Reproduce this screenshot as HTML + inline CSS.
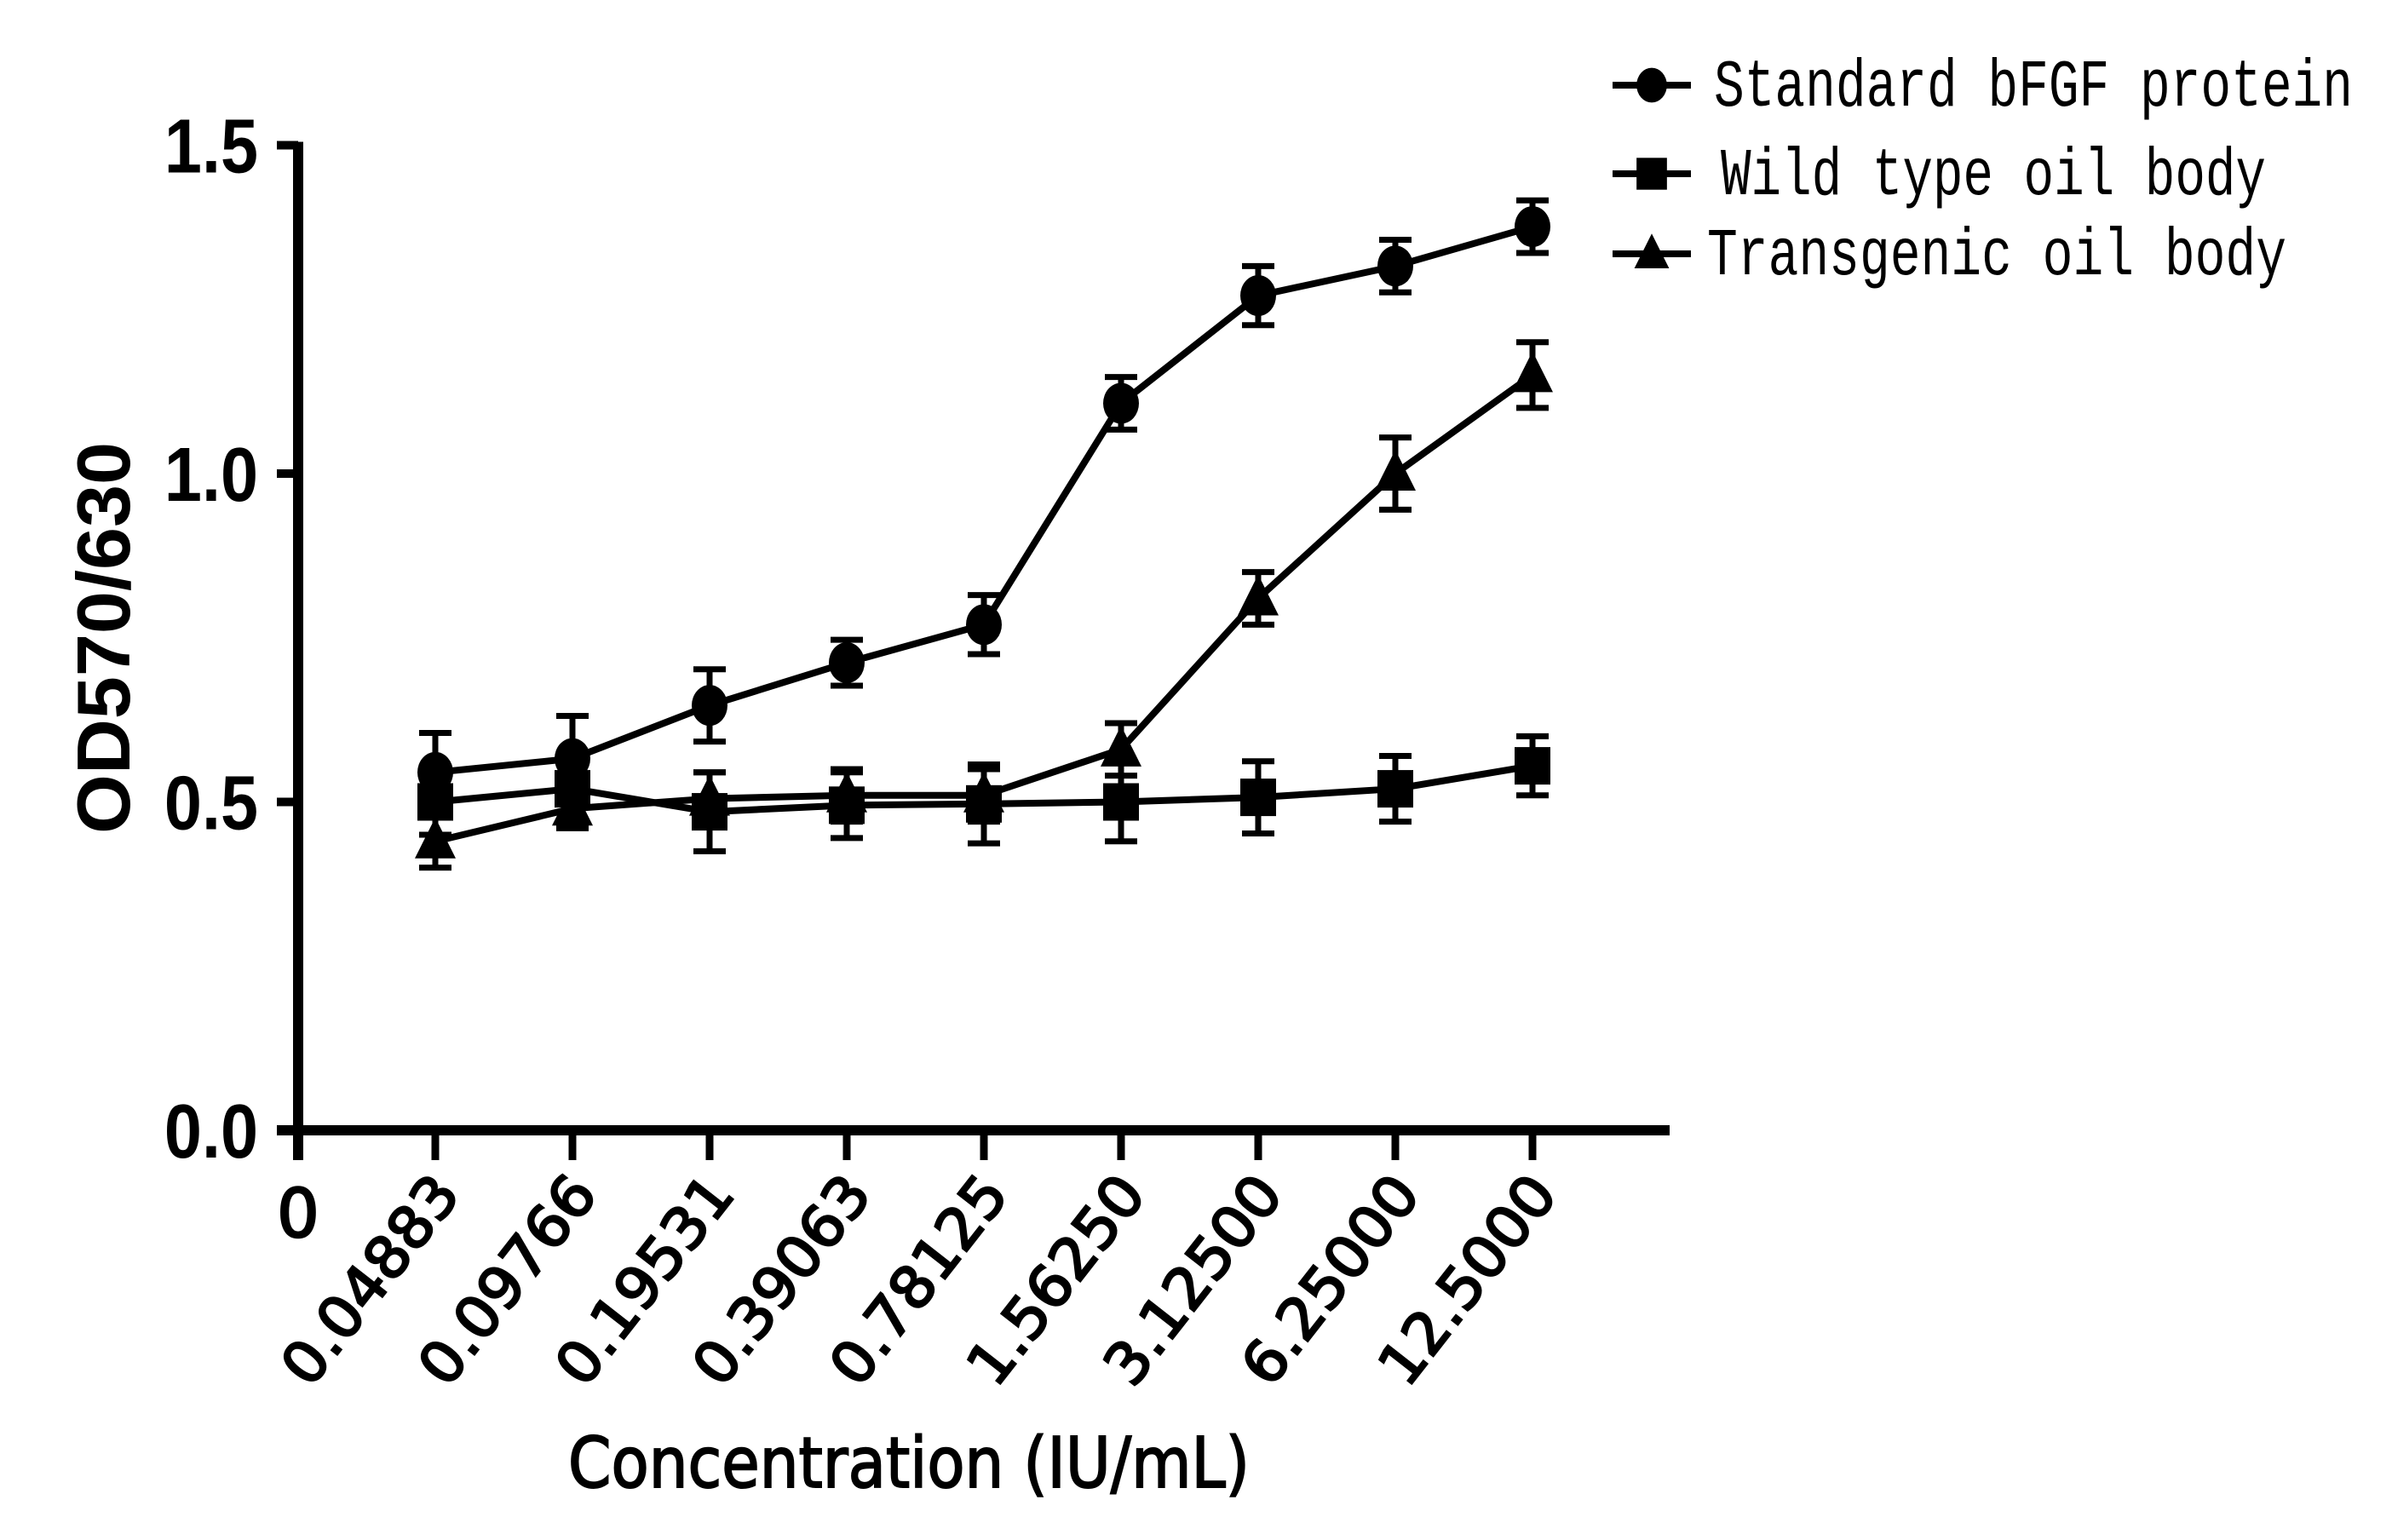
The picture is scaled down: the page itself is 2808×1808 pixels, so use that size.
<!DOCTYPE html>
<html><head><meta charset="utf-8"><style>
html,body{margin:0;padding:0;background:#fff;}
svg{display:block;}
</style></head><body>
<svg id="chart" width="2808" height="1808" viewBox="0 0 2808 1808" xmlns="http://www.w3.org/2000/svg">
<rect width="2808" height="1808" fill="#fff"/>
<g id="axes"></g>
<g id="series"></g>
<g id="legend"></g>
</svg>
<script>
const categories = ["0.04883","0.09766","0.19531","0.39063","0.78125","1.56250","3.12500","6.25000","12.5000"];
const yTicks = [0, 0.5, 1.0, 1.5];
const yTickLabels = ["0.0","0.5","1.0","1.5"];
const standardValues = [0.545,0.566,0.647,0.712,0.770,1.107,1.271,1.316,1.376];
const standardErrors = [0.06,0.065,0.055,0.035,0.045,0.04,0.045,0.04,0.04];
const wildValues = [0.50,0.52,0.485,0.495,0.497,0.50,0.507,0.52,0.555];
const wildErrors = [0.05,0.05,0.06,0.05,0.06,0.06,0.055,0.05,0.045];
const transValues = [0.44,0.49,0.505,0.51,0.51,0.58,0.81,1.00,1.15];
const transErrors = [0.04,0.03,0.04,0.04,0.04,0.04,0.04,0.055,0.05];
const seriesNames = ["Standard bFGF protein","Wild type oil body","Transgenic oil body"];

const NS="http://www.w3.org/2000/svg";
const X0=350, STEP=161, Y0=1327, YUNIT=771;
function xPos(i){return X0+(i+1)*STEP;}
function yPos(v){return Y0-v*YUNIT;}
function mk(tag,attrs,parent){const e=document.createElementNS(NS,tag);for(const k in attrs)e.setAttribute(k,attrs[k]);parent.appendChild(e);return e;}

const axes=document.getElementById('axes');
let yl=mk('line',{x1:X0,y1:yPos(1.5)-4,x2:X0,y2:1362,stroke:'#000','stroke-width':12},axes);


let xl=mk('line',{x1:325,y1:Y0,x2:X0+10*STEP,y2:Y0,stroke:'#000','stroke-width':12},axes);


yTicks.forEach((t,k)=>{
  let tk=mk('line',{x1:325,y1:yPos(t),x2:X0,y2:yPos(t),stroke:'#000','stroke-width':10},axes);
  
  
  let tx=mk('text',{x:303,y:yPos(t)+32,'text-anchor':'end','font-family':'Liberation Sans, sans-serif','font-weight':'bold','font-size':90,transform:'translate(303,0) scale(0.88,1) translate(-303,0)'},axes);
  tx.textContent=yTickLabels[k];
  
  
});
for(let i=1;i<=9;i++){
  let x=X0+i*STEP;
  let tk=mk('line',{x1:x,y1:Y0,x2:x,y2:1362,stroke:'#000','stroke-width':9},axes);
  
  
}
let zero=mk('text',{x:350,y:1452,'text-anchor':'middle','font-family':'DejaVu Sans, sans-serif','font-size':78,stroke:'#000','stroke-width':2.5},axes);
zero.textContent="0";


categories.forEach((c,i)=>{
  const x=xPos(i)-8, y=1372;
  let t=mk('text',{x:x,y:y,'text-anchor':'end','font-family':'DejaVu Sans, sans-serif','font-size':68,stroke:'#000','stroke-width':2.5,textLength:290,lengthAdjust:'spacingAndGlyphs',transform:`rotate(-52 ${x} ${y}) translate(0,50)`},axes);
  t.textContent=c;
  
  
});
let xt=mk('text',{x:1067,y:1746,'text-anchor':'middle','font-family':'DejaVu Sans, sans-serif','font-size':82,stroke:'#000','stroke-width':2,textLength:800,lengthAdjust:'spacingAndGlyphs'},axes);
xt.textContent="Concentration (IU/mL)";


let ytl=mk('text',{x:0,y:0,'text-anchor':'middle','font-family':'Liberation Sans, sans-serif','font-weight':'bold','font-size':88,textLength:460,lengthAdjust:'spacingAndGlyphs',transform:'translate(152,749) rotate(-90)'},axes);
ytl.textContent="OD570/630";



function marker(type,x,y,parent,s){
  let m;
  if(type==='circle') m=mk('ellipse',{cx:x,cy:y,rx:21*s,ry:24*s,fill:'#000'},parent);
  else if(type==='square') m=mk('rect',{x:x-21*s,y:y-22*s,width:42*s,height:44*s,fill:'#000'},parent);
  else m=mk('polygon',{points:`${x},${y-28*s} ${x+24*s},${y+20*s} ${x-24*s},${y+20*s}`,fill:'#000'},parent);
  return m;
}
const seriesDefs=[
  {vals:wildValues,errs:wildErrors,m:'square',name:'wild-type-series'},
  {vals:transValues,errs:transErrors,m:'triangle',name:'transgenic-series'},
  {vals:standardValues,errs:standardErrors,m:'circle',name:'standard-series'}
];
const sg=document.getElementById('series');
seriesDefs.forEach(sd=>{
  const g=mk('g',{},sg);
  
  
  const pts=sd.vals.map((v,i)=>`${xPos(i)},${yPos(v)}`).join(' ');
  let pl=mk('polyline',{points:pts,fill:'none',stroke:'#000','stroke-width':8},g);
  
  
  sd.vals.forEach((v,i)=>{
    const x=xPos(i),hi=yPos(v+sd.errs[i]),lo=yPos(v-sd.errs[i]);
    let eb=mk('path',{d:`M${x},${hi}V${lo}M${x-19},${hi}H${x+19}M${x-19},${lo}H${x+19}`,stroke:'#000','stroke-width':7,fill:'none'},g);
    
    
    let mm=marker(sd.m,x,yPos(v),g,1);
    
    
  });
});
const lg=document.getElementById('legend');
const lgTypes=['circle','square','triangle'];
const lgY=[100,204,298];
seriesNames.forEach((n,k)=>{
  const g=mk('g',{},lg);
  
  
  mk('line',{x1:1893,y1:lgY[k],x2:1985,y2:lgY[k],stroke:'#000','stroke-width':8},g);
  marker(lgTypes[k],1939,lgY[k],g,0.85);
  const tx=[2012,2020,2004][k];
  const tl=[750,640,680][k];
  let t=mk('text',{x:tx,y:lgY[k]+22,'font-family':'Liberation Mono, Noto Serif CJK SC, monospace','font-size':72,textLength:tl,lengthAdjust:'spacingAndGlyphs',transform:`translate(0,${lgY[k]}) scale(1,1.1) translate(0,${-lgY[k]})`},g);
  t.textContent=n;
  
  
});
</script>
</body></html>
